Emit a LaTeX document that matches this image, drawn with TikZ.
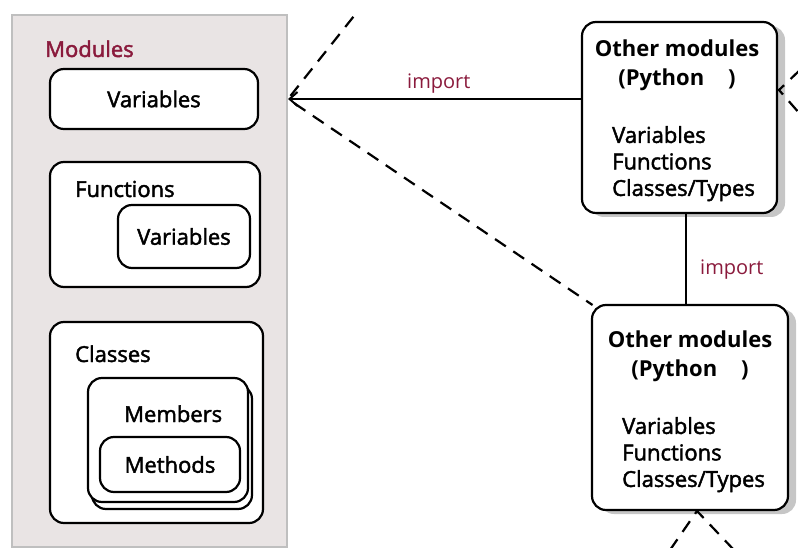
\documentclass[tikz,border=0pt]{standalone}
\usepackage{fontspec}
\setmainfont{Open Sans}
\newfontfamily\semifont[FakeBold=2]{Open Sans}
\usetikzlibrary{arrows.meta}
\usetikzlibrary{shadows}
\definecolor{darkred}{HTML}{8A1A3C}
\definecolor{panelgray}{HTML}{E9E4E4}
\tikzset{box/.style = {draw, line width=2.2pt, rounded corners=14pt, fill=white, inner sep=0,
                       font=\semifont\fontsize{22}{26}\selectfont}}
\tikzset{modbox/.style = {box, drop shadow={shadow xshift=8pt, shadow yshift=-4pt, fill=gray!45, opacity=1}}}
\tikzset{lbl/.style = {anchor=base west, inner sep=0, font=\semifont\fontsize{22}{26}\selectfont}}
\tikzset{imp/.style = {anchor=base west, inner sep=0, text=darkred, font=\fontsize{20}{24}\selectfont}}
\tikzset{dash line/.style = {line width=2.2pt, dash pattern=on 13pt off 9pt}}
\tikzset{imp arrow/.style = {line width=2.2pt, -{Straight Barb[length=8pt, width=14pt, line width=2pt]}}}

\begin{document}
\begin{tikzpicture}[x=1pt, y=-1pt]
    \useasboundingbox (0, 0) rectangle (798, 548);

    % the module itself
    \node (modpanel) [draw=gray!50, fill=panelgray, line width=2pt, inner sep=0,
                      minimum width=275pt, minimum height=532pt] at (149.5, 281) {};
    \node (modlbl) [lbl, text=darkred] at (45, 57) {Modules};

    \node (vars) [box, minimum width=208pt, minimum height=60pt] at (154, 99) {Variables};

    \node (funcs) [box, minimum width=210pt, minimum height=125pt] at (155, 224.5) {};
    \node (funcslbl) [lbl] at (75, 197) {Functions};
    \node (funcvars) [box, minimum width=132pt, minimum height=63pt] at (184, 236.5) {Variables};

    \node (classes) [box, minimum width=213pt, minimum height=201pt] at (156.5, 422.5) {};
    \node (classeslbl) [lbl] at (75, 362) {Classes};
    \node (memback) [box, minimum width=160pt, minimum height=124pt] at (172, 447) {};
    \node (members) [box, minimum width=160pt, minimum height=124pt] at (168, 440) {};
    \node (memlbl) [lbl] at (124, 422) {Members};
    \node (methods) [box, minimum width=140pt, minimum height=55pt] at (170, 464.5) {Methods};

    % other modules
    \node (topbox) [modbox, minimum width=195pt, minimum height=191pt] at (679.5, 117.5) {};
    \node (toptitle) [anchor=north, inner sep=0, align=center,
                      font=\bfseries\fontsize{22}{29}\selectfont] at (677, 40) {Other modules\\(Python\hspace{24pt})};
    \node (toplist) [anchor=north west, inner sep=0, align=left,
                     font=\semifont\fontsize{22}{26.5}\selectfont] at (612, 126) {Variables\\Functions\\Classes/Types};

    \node (botbox) [modbox, minimum width=196pt, minimum height=205pt] at (690, 407.5) {};
    \node (bottitle) [anchor=north, inner sep=0, align=center,
                      font=\bfseries\fontsize{22}{29}\selectfont] at (690, 331) {Other modules\\(Python\hspace{24pt})};
    \node (botlist) [anchor=north west, inner sep=0, align=left,
                     font=\semifont\fontsize{22}{26.5}\selectfont] at (622, 417) {Variables\\Functions\\Classes/Types};

    % imports
    \coordinate (tip) at (modpanel.east |- vars.east);
    \draw [imp arrow] (topbox.west |- tip) -- (tip);
    \node (imptop) [imp] at (407, 89) {import};

    \coordinate (vx) at (686, 0);
    \draw [line width=2.2pt] (topbox.south -| vx) -- (botbox.north -| vx);
    \node (impmid) [imp] at (700, 275) {import};

    % dashed links
    \coordinate (ul) at (354, 16);
    \draw [dash line, shorten <=4pt] (tip) -- (ul);
    \draw [dash line, shorten <=8pt, shorten >=-2pt] (tip) -- (botbox.north west);

    \coordinate (rapex) at (779, 90);
    \coordinate (rt) at (800, 70);
    \coordinate (rb) at (800, 114);
    \draw [dash line] (rt) -- (rapex) -- (rb);

    \coordinate (bapex) at (697, 511);
    \coordinate (bl) at (670, 550);
    \coordinate (br) at (734, 550);
    \draw [dash line] (bl) -- (bapex) -- (br);
\end{tikzpicture}
\end{document}
